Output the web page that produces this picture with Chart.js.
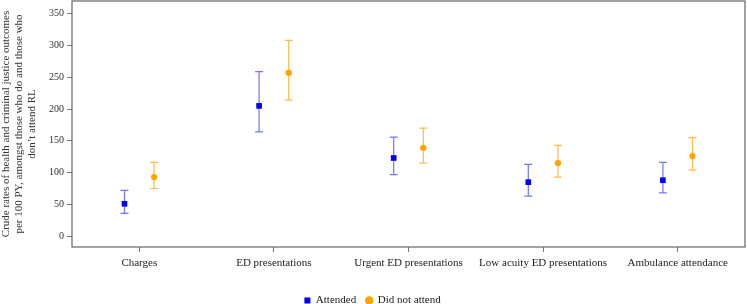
<!DOCTYPE html>
<html>
<head>
<meta charset="utf-8">
<script src="https://cdn.jsdelivr.net/npm/chart.js@4.4.1/dist/chart.umd.min.js"></script>
<style>
  html, body { margin: 0; padding: 0; background: #fff; }
  #wrap { width: 747px; height: 304px; }
</style>
</head>
<body>
<div id="wrap"><canvas id="chart"></canvas></div>
<script>
// categories and values
const categories = ['Charges', 'ED presentations', 'Urgent ED presentations', 'Low acuity ED presentations', 'Ambulance attendance'];
const attended = [51, 205, 123, 85, 88];
const attendedLow = [36, 164, 97, 63, 68];
const attendedHigh = [72, 259, 156, 113, 116];
const notAttended = [93, 257, 139, 115, 126];
const notAttendedLow = [75, 214, 115, 93, 104];
const notAttendedHigh = [116, 308, 170, 143, 155];
const yTicks = [0, 50, 100, 150, 200, 250, 300, 350];

const SHIFT = 0.11; // dodge between the two groups
const FONT = 'Liberation Serif, Times New Roman, serif';

function points(vals, lo, hi, dx) {
  return vals.map((v, i) => ({ x: i + dx, y: v, lo: lo[i], hi: hi[i] }));
}

// draw the CI whiskers with the chart's own scales
const errorBars = {
  id: 'errorBars',
  beforeDatasetsDraw(chart) {
    const ctx = chart.ctx, xs = chart.scales.x, ys = chart.scales.y;
    chart.data.datasets.forEach(ds => {
      ctx.save();
      ctx.strokeStyle = ds.barColor;
      ctx.lineWidth = 1.2;
      ds.data.forEach(p => {
        const x = xs.getPixelForValue(p.x);
        const y1 = ys.getPixelForValue(p.lo), y2 = ys.getPixelForValue(p.hi);
        ctx.beginPath();
        ctx.moveTo(x, y1); ctx.lineTo(x, y2);
        ctx.moveTo(x - 4, y1); ctx.lineTo(x + 4, y1);
        ctx.moveTo(x - 4, y2); ctx.lineTo(x + 4, y2);
        ctx.stroke();
      });
      ctx.restore();
    });
  },
  afterDraw(chart) {
    // box round the plot
    const a = chart.chartArea, ctx = chart.ctx;
    ctx.save();
    ctx.strokeStyle = '#666';
    ctx.lineWidth = 1.2;
    ctx.strokeRect(a.left, a.top, a.right - a.left, a.bottom - a.top);
    ctx.restore();
  }
};

new Chart(document.getElementById('chart'), {
  type: 'scatter',
  data: {
    datasets: [
      {
        label: 'Attended',
        data: points(attended, attendedLow, attendedHigh, -SHIFT),
        pointStyle: 'rect',
        pointRadius: 4,
        backgroundColor: '#0000ff',
        borderColor: '#0000ff',
        borderWidth: 0,
        barColor: 'rgba(40,40,255,0.65)'
      },
      {
        label: 'Did not attend',
        data: points(notAttended, notAttendedLow, notAttendedHigh, SHIFT),
        pointStyle: 'circle',
        pointRadius: 3.2,
        backgroundColor: '#ffa500',
        borderColor: '#ffa500',
        borderWidth: 0,
        barColor: 'rgba(255,170,20,0.8)'
      }
    ]
  },
  options: {
    responsive: true,
    maintainAspectRatio: false,
    animation: false,
    // the legend sits right on the bottom edge in the original
    layout: { autoPadding: false, padding: { top: 1, right: 2, left: 0, bottom: -12 } },
    plugins: {
      tooltip: { enabled: false },
      legend: {
        position: 'bottom',
        labels: {
          usePointStyle: true,
          boxWidth: 6,
          boxHeight: 6,
          padding: 10,
          color: '#222',
          font: { family: FONT, size: 11 }
        }
      }
    },
    scales: {
      x: {
        type: 'linear',
        min: -0.5,
        max: 4.5,
        afterBuildTicks: s => { s.ticks = categories.map((c, i) => ({ value: i })); },
        afterFit: s => { s.height = 38; s.paddingLeft = 0; s.paddingRight = 0; },
        ticks: {
          callback: v => categories[v],
          color: '#222',
          padding: 5,
          font: { family: FONT, size: 11 },
          maxRotation: 0,
          autoSkip: false
        },
        grid: { drawOnChartArea: false, tickLength: 5, color: '#777' },
        border: { display: false }
      },
      y: {
        min: -17,
        max: 370,
        afterBuildTicks: s => { s.ticks = yTicks.map(v => ({ value: v })); },
        afterFit: s => { s.width = 72; s.paddingTop = 0; s.paddingBottom = 0; },
        ticks: {
          color: '#333',
          padding: 3,
          font: { family: FONT, size: 10 }
        },
        grid: { drawOnChartArea: false, tickLength: 5, color: '#777' },
        border: { display: false },
        title: {
          display: true,
          text: ['Crude rates of health and criminal justice outcomes',
                 'per 100 PY, amongst those who do and those who',
                 'don\u2019t attend RL'],
          color: '#333',
          padding: 0,
          font: { family: FONT, size: 11, lineHeight: 1.15 }
        }
      }
    }
  },
  plugins: [errorBars]
});
</script>
</body>
</html>
